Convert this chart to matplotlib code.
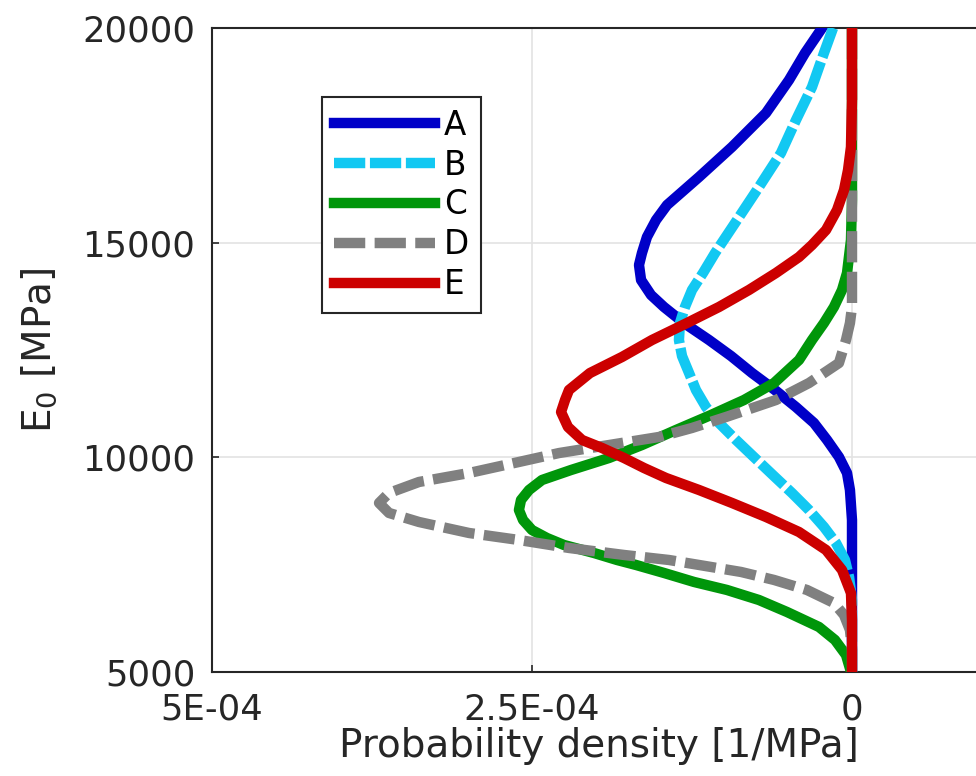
import numpy as np
import matplotlib
matplotlib.use("Agg")
import matplotlib.pyplot as plt

# E0 levels [MPa] and probability density (units of 1e-4 1/MPa)
A_E = [20000, 19418, 18789, 18020, 17228, 16530, 15877, 15528, 15132, 14759,
       14480, 14130, 13781, 13502, 13129, 12733, 12360, 11964, 11568, 11172,
       10800, 10404, 10008, 9635, 9239, 8540, 5000]
A_d = [0.234, 0.367, 0.492, 0.672, 0.938, 1.195, 1.445, 1.531, 1.602, 1.641,
       1.664, 1.648, 1.570, 1.469, 1.313, 1.117, 0.945, 0.781, 0.602, 0.438,
       0.297, 0.195, 0.102, 0.039, 0.016, 0.0, 0.0]

B_E = [20000, 19418, 18626, 17857, 17089, 16297, 15528, 14759, 14294, 13898,
       13502, 13129, 12733, 12360, 11964, 11568, 11172, 10800, 10404, 9938,
       9542, 9169, 8773, 8378, 8005, 7609, 7213, 6677, 5000]
B_d = [0.148, 0.219, 0.3125, 0.4375, 0.555, 0.727, 0.898, 1.070, 1.164, 1.25,
       1.305, 1.344, 1.352, 1.328, 1.273, 1.219, 1.141, 1.039, 0.906, 0.742,
       0.602, 0.469, 0.336, 0.219, 0.125, 0.055, 0.023, 0.0, 0.0]

C_E = [20000, 15994, 15062, 14294, 13898, 13502, 13129, 12733, 12267, 11731,
       11335, 10986, 10637, 10287, 9985, 9705, 9472, 9239, 9006, 8774,
       8540, 8307, 8121, 7958, 7772, 7609, 7493, 7307, 7097, 6911,
       6677, 6398, 6049, 5746, 5397, 5000]
C_d = [0.0, 0.0, 0.008, 0.039, 0.078, 0.141, 0.219, 0.3125, 0.414, 0.609,
       0.844, 1.102, 1.375, 1.641, 1.898, 2.195, 2.422, 2.523, 2.586, 2.602,
       2.570, 2.50, 2.383, 2.25, 2.016, 1.836, 1.6875, 1.469, 1.234, 0.977,
       0.727, 0.508, 0.258, 0.133, 0.047, 0.008]

D_E = [20000, 14364, 13502, 13129, 12733, 12197, 11731, 11335, 10940, 10684,
       10474, 10287, 10100, 9892, 9635, 9426, 9170, 8937, 8704, 8494,
       8238, 8075, 7889, 7726, 7609, 7493, 7330, 7144, 6911, 6608,
       6328, 5979, 5513, 5000]
D_d = [0.0, 0.0, 0.0, 0.016, 0.047, 0.102, 0.336, 0.594, 0.984, 1.25,
       1.508, 1.898, 2.289, 2.602, 2.992, 3.383, 3.617, 3.695, 3.617, 3.383,
       2.992, 2.602, 2.211, 1.781, 1.430, 1.195, 0.867, 0.609, 0.352, 0.141,
       0.0625, 0.016, 0.0, 0.0]

E_E = [20000, 18323, 17228, 16693, 16227, 15761, 15295, 14946, 14666, 14294,
       13898, 13502, 13129, 12733, 12337, 11964, 11568, 11335, 11056, 10707,
       10404, 10218, 9985, 9752, 9519, 9239, 8937, 8611, 8261, 7842,
       7376, 6840, 6211, 5000]
E_d = [0.0, 0.0, 0.008, 0.031, 0.0625, 0.117, 0.203, 0.3125, 0.414, 0.594,
       0.805, 1.039, 1.289, 1.5625, 1.797, 2.047, 2.211, 2.242, 2.273, 2.219,
       2.109, 1.953, 1.781, 1.625, 1.453, 1.195, 0.9375, 0.672, 0.414, 0.203,
       0.078, 0.008, 0.0, 0.0]

labels = ["A", "B", "C", "D", "E"]
colors = ["#0000C8", "#12C8F2", "#00960A", "#808080", "#CC0000"]
scale = 1e-4

fig = plt.figure(figsize=(9.76, 7.76), dpi=100)
ax = fig.add_axes([212 / 976, 104 / 776, 774 / 976, 644 / 776])

series = [(A_E, A_d), (B_E, B_d), (C_E, C_d), (D_E, D_d), (E_E, E_d)]
for (e, d), lab, col in zip(series, labels, colors):
    x = np.array(d) * scale
    if lab in ("B", "D"):
        gap = 0.45 if lab == "B" else 0.9
        ax.plot(x, e, color=col, lw=7.5, label=lab, dashes=(3.0, gap),
                dash_joinstyle="round", zorder=3)
    else:
        ax.plot(x, e, color=col, lw=7.5, label=lab,
                solid_joinstyle="round", zorder=3)

ax.set_xlim(5e-4, 5e-4 - 774 / 128 * 1e-4)
ax.set_ylim(5000, 20000)
ax.set_xticks([5e-4, 2.5e-4, 0])
ax.set_xticklabels(["5E-04", "2.5E-04", "0"])
ax.set_yticks([5000, 10000, 15000, 20000])
ax.grid(True, color="#e3e3e3", lw=1.2, zorder=0)
ax.set_axisbelow(True)

for s in ax.spines.values():
    s.set_color("#262626")
    s.set_linewidth(1.5)
ax.tick_params(direction="in", length=5, width=1.2, colors="#262626",
               labelsize=25.5, labelcolor="#262626")
ax.tick_params(axis="y", pad=12)
ax.tick_params(axis="x", pad=15)

ax.set_xlabel("Probability density [1/MPa]", fontsize=28, color="#262626", labelpad=0)
ax.set_ylabel("E$_0$ [MPa]", fontsize=28, color="#262626", labelpad=17)

leg = ax.legend(loc="upper left", bbox_to_anchor=(322 / 976, 1 - 97 / 776),
                bbox_transform=fig.transFigure, borderaxespad=0,
                fontsize=23.5, handlelength=3.1, handletextpad=0.28,
                labelspacing=0.21, borderpad=0.36, fancybox=False,
                framealpha=1, edgecolor="#262626")
leg.get_frame().set_linewidth(1.5)

fig.savefig("out.png", dpi=100)
